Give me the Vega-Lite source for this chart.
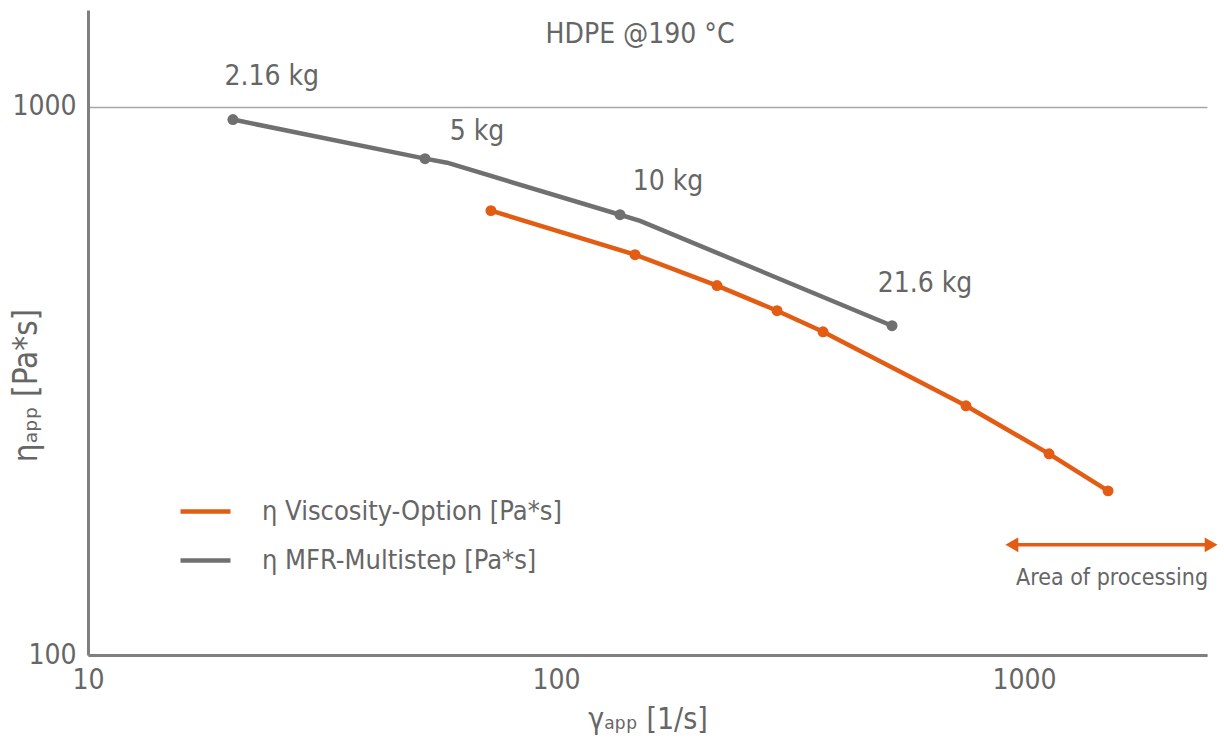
{
  "$schema": "https://vega.github.io/schema/vega-lite/v6.json",
  "width": 1119,
  "height": 645,
  "autosize": {"type": "none"},
  "padding": {"left": 88, "top": 10, "right": 17, "bottom": 94},
  "background": "white",
  "config": {
    "font": "DejaVu Sans Condensed",
    "view": {"stroke": null},
    "axis": {"labelColor": "#666666", "titleColor": "#666666", "titleFontWeight": "normal", "labelFont": "DejaVu Sans Condensed", "titleFont": "DejaVu Sans Condensed", "labelFlush": false}
  },
  "datasets": {
    "curves": [
      {"series": "η MFR-Multistep [Pa*s]", "x": 20.4, "y": 947, "marker": true},
      {"series": "η MFR-Multistep [Pa*s]", "x": 52.5, "y": 803.6, "marker": true},
      {"series": "η MFR-Multistep [Pa*s]", "x": 58.5, "y": 790, "marker": false},
      {"series": "η MFR-Multistep [Pa*s]", "x": 137.0, "y": 635, "marker": true},
      {"series": "η MFR-Multistep [Pa*s]", "x": 151.2, "y": 619, "marker": false},
      {"series": "η MFR-Multistep [Pa*s]", "x": 522.3, "y": 398.5, "marker": true},
      {"series": "η Viscosity-Option [Pa*s]", "x": 72.6, "y": 646, "marker": true},
      {"series": "η Viscosity-Option [Pa*s]", "x": 147.5, "y": 537, "marker": true},
      {"series": "η Viscosity-Option [Pa*s]", "x": 220.8, "y": 471.6, "marker": true},
      {"series": "η Viscosity-Option [Pa*s]", "x": 296.7, "y": 424.4, "marker": true},
      {"series": "η Viscosity-Option [Pa*s]", "x": 372, "y": 388.5, "marker": true},
      {"series": "η Viscosity-Option [Pa*s]", "x": 751.6, "y": 284.7, "marker": true},
      {"series": "η Viscosity-Option [Pa*s]", "x": 1131, "y": 232.7, "marker": true},
      {"series": "η Viscosity-Option [Pa*s]", "x": 1512, "y": 199.2, "marker": true}
    ],
    "labels": [
      {"label": "2.16 kg", "x": 24.7, "y": 1134},
      {"label": "5 kg", "x": 67.8, "y": 900},
      {"label": "10 kg", "x": 173.5, "y": 730},
      {"label": "21.6 kg", "x": 614.4, "y": 475}
    ],
    "heading": [
      {"label": "HDPE @190 °C", "x": 151.2, "y": 1353}
    ],
    "area": [
      {"label": "Area of processing", "x": 1542, "y": 138.2, "x1": 942, "x2": 2510, "ya": 158.8}
    ],
    "heads": [
      {"x": 942, "y": 158.8, "dir": "left"},
      {"x": 2510, "y": 158.8, "dir": "right"}
    ]
  },
  "layer": [
    {
      "data": {"name": "curves"},
      "mark": {"type": "line", "strokeWidth": 4.5, "strokeCap": "round", "strokeJoin": "round"},
      "encoding": {
        "x": {"field": "x", "type": "quantitative",
          "scale": {"type": "log", "domain": [10, 2460], "nice": false},
          "axis": {"values": [10, 100, 1000], "format": "d", "grid": false, "ticks": false,
            "domainColor": "#7f7f7f", "domainWidth": 3, "labelFontSize": 28, "labelPadding": 11,
            "title": "γₐₚₚ [1/s]", "titleFontSize": 30, "titlePadding": 10}},
        "y": {"field": "y", "type": "quantitative",
          "scale": {"type": "log", "domain": [100, 1500], "nice": false},
          "axis": {"values": [100, 1000], "format": "d", "grid": true, "gridColor": "#a6a6a6", "gridWidth": 1.5, "ticks": false,
            "domainColor": "#7f7f7f", "domainWidth": 3, "labelFontSize": 28, "labelPadding": 12,
            "title": "ηₐₚₚ [Pa*s]", "titleFontSize": 33, "titleX": -45, "titleY": 375, "titleBaseline": "bottom", "titleAngle": -90}},
        "color": {"field": "series", "type": "nominal",
          "scale": {"domain": ["η Viscosity-Option [Pa*s]", "η MFR-Multistep [Pa*s]"], "range": ["#e35c14", "#707070"]},
          "legend": {"title": null, "orient": "none", "legendX": 90, "legendY": 474,
            "symbolType": "stroke", "symbolStrokeWidth": 4.5, "symbolSize": 2500,
            "labelFontSize": 27, "labelColor": "#666666", "labelFont": "DejaVu Sans Condensed", "labelLimit": 600, "rowPadding": 8, "labelOffset": 29}},
        "detail": {"field": "series"}
      }
    },
    {
      "data": {"name": "curves"},
      "transform": [{"filter": "datum.marker"}],
      "mark": {"type": "point", "filled": true, "opacity": 1, "size": 120},
      "encoding": {
        "x": {"field": "x", "type": "quantitative"},
        "y": {"field": "y", "type": "quantitative"},
        "color": {"field": "series", "type": "nominal", "legend": null}
      }
    },
    {
      "data": {"name": "labels"},
      "mark": {"type": "text", "fontSize": 28, "color": "#666666", "align": "center", "baseline": "middle"},
      "encoding": {
        "x": {"field": "x", "type": "quantitative"},
        "y": {"field": "y", "type": "quantitative"},
        "text": {"field": "label"}
      }
    },
    {
      "data": {"name": "heading"},
      "mark": {"type": "text", "fontSize": 28, "color": "#666666", "align": "center", "baseline": "middle"},
      "encoding": {
        "x": {"field": "x", "type": "quantitative"},
        "y": {"field": "y", "type": "quantitative"},
        "text": {"field": "label"}
      }
    },
    {
      "data": {"name": "area"},
      "mark": {"type": "rule", "color": "#e35c14", "strokeWidth": 3.5},
      "encoding": {
        "x": {"field": "x1", "type": "quantitative"},
        "x2": {"field": "x2"},
        "y": {"field": "ya", "type": "quantitative"}
      }
    },
    {
      "data": {"name": "heads"},
      "mark": {"type": "point", "filled": true, "opacity": 1, "size": 220, "color": "#e35c14"},
      "encoding": {
        "x": {"field": "x", "type": "quantitative"},
        "y": {"field": "y", "type": "quantitative"},
        "shape": {"field": "dir", "type": "nominal",
          "scale": {"domain": ["left", "right"], "range": ["triangle-left", "triangle-right"]}, "legend": null}
      }
    },
    {
      "data": {"name": "area"},
      "mark": {"type": "text", "fontSize": 23, "color": "#666666", "align": "center", "baseline": "middle"},
      "encoding": {
        "x": {"field": "x", "type": "quantitative"},
        "y": {"field": "y", "type": "quantitative"},
        "text": {"field": "label"}
      }
    }
  ]
}
